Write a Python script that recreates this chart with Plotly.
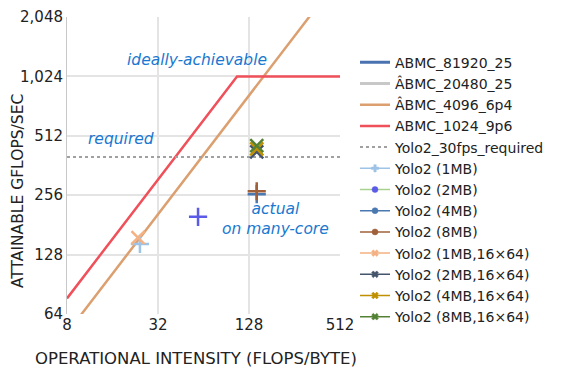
import plotly.graph_objects as go

# Roofline series (operational intensity, GFLOPS)
abmc_81920_x = [128, 3276.8, 8192]
abmc_81920_y = [3200, 81920, 81920]
abmc_20480_x = [128, 819.2, 8192]
abmc_20480_y = [3200, 20480, 20480]
abmc_4096_x = [8, 640, 2048]
abmc_4096_y = [51.2, 4096, 4096]
abmc_1024_x = [8, 106.67, 512]
abmc_1024_y = [76.8, 1024, 1024]
req_x = [8, 512]
req_y = [400, 400]

# Yolo2 measured points
yolo_names = ["Yolo2 (1MB)", "Yolo2 (2MB)", "Yolo2 (4MB)", "Yolo2 (8MB)",
              "Yolo2 (1MB,16×64)", "Yolo2 (2MB,16×64)", "Yolo2 (4MB,16×64)", "Yolo2 (8MB,16×64)"]
yolo_x = [24.3, 58.9, 144, 144, 23.6, 144, 144, 144]
yolo_y = [145, 199, 259, 268, 156, 425, 440, 456]

yolo_marker_colors = ["#9dc3e6", "#5b5be8", "#4a78b0", "#a0603a",
                      "#f4b183", "#44546a", "#bf9000", "#548235"]
yolo_line_colors = ["#9dc3e6", "#a9d18e", "#4a78b0", "#a0603a",
                    "#f4b183", "#44546a", "#bf9000", "#548235"]
yolo_symbols = ["cross-thin", "cross-thin", "cross-thin", "cross-thin",
                "x-thin", "x-thin", "x-thin", "x-thin"]
legend_symbols = ["cross", "circle", "circle", "circle", "x", "x", "x", "x"]

x_ticks = [8, 32, 128, 512]
y_ticks = [64, 128, 256, 512, 1024, 2048]
y_ticktext = ["64", "128", "256", "512", "1,024", "2,048"]

FONT = "DejaVu Sans"
TXT = "#222222"

fig = go.Figure()
fig.add_trace(go.Scatter(x=abmc_81920_x, y=abmc_81920_y, mode="lines", name="ABMC_81920_25",
                         line=dict(color="#4a72b0", width=3)))
fig.add_trace(go.Scatter(x=abmc_20480_x, y=abmc_20480_y, mode="lines", name="ÂBMC_20480_25",
                         line=dict(color="#c8c8c8", width=3)))
fig.add_trace(go.Scatter(x=abmc_4096_x, y=abmc_4096_y, mode="lines", name="ÂBMC_4096_6p4",
                         line=dict(color="#dca070", width=2.5)))
fig.add_trace(go.Scatter(x=abmc_1024_x, y=abmc_1024_y, mode="lines", name="ABMC_1024_9p6",
                         line=dict(color="#f0505a", width=2.5)))
fig.add_trace(go.Scatter(x=req_x, y=req_y, mode="lines", name="Yolo2_30fps_required",
                         line=dict(color="#a0a0a0", width=2, dash="dot")))
for n, xv, yv, mc, lc, sy, ls in zip(yolo_names, yolo_x, yolo_y, yolo_marker_colors,
                                      yolo_line_colors, yolo_symbols, legend_symbols):
    # plotted point (large thin cross)
    fig.add_trace(go.Scatter(x=[xv], y=[yv], mode="markers", name=n, legendgroup=n,
                             showlegend=False,
                             marker=dict(symbol=sy, size=13,
                                         line=dict(color=mc, width=2.5))))
    # legend entry (line with small marker)
    fig.add_trace(go.Scatter(x=[None], y=[None], mode="lines+markers", name=n, legendgroup=n,
                             line=dict(color=lc, width=1.5),
                             marker=dict(symbol=ls, size=6, color=mc,
                                         line=dict(color=mc, width=0.5))))

ann_color = "#1a78d0"
fig.add_annotation(x=1.763, y=3.091, xref="x", yref="y", text="<i>ideally-achievable</i>",
                   showarrow=False, font=dict(size=15.5, color=ann_color, family=FONT))
fig.add_annotation(x=1.26, y=2.694, xref="x", yref="y", text="<i>required</i>",
                   showarrow=False, font=dict(size=15.5, color=ann_color, family=FONT))
fig.add_annotation(x=2.285, y=2.286, xref="x", yref="y", text="<i>actual<br>on many-core</i>",
                   showarrow=False, font=dict(size=15.5, color=ann_color, family=FONT),
                   align="center")

# axis titles (placed as in the reference, slightly off-centre)
fig.add_annotation(x=0.4725, y=-0.1515, xref="paper", yref="paper",
                   text="OPERATIONAL INTENSITY (FLOPS/BYTE)", showarrow=False,
                   xanchor="center", yanchor="middle",
                   font=dict(size=16.5, color=TXT, family=FONT))
fig.add_annotation(x=-0.1795, y=0.414, xref="paper", yref="paper",
                   text="ATTAINABLE GFLOPS/SEC", showarrow=False, textangle=-90,
                   xanchor="center", yanchor="middle",
                   font=dict(size=15.5, color=TXT, family=FONT))

fig.update_xaxes(type="log", range=[0.90309, 2.70927], tickvals=x_ticks,
                 ticktext=[str(v) for v in x_ticks], automargin=False,
                 showgrid=True, gridcolor="#e4e4e4", gridwidth=1.5, zeroline=False,
                 showline=False, ticks="",
                 tickfont=dict(size=15, color=TXT, family=FONT))
fig.update_yaxes(type="log", range=[1.80618, 3.31133], tickvals=y_ticks, ticktext=y_ticktext,
                 automargin=False,
                 showgrid=True, gridcolor="#e4e4e4", gridwidth=1.5, zeroline=False,
                 showline=True, linecolor="#c8c8c8", ticks="",
                 tickfont=dict(size=15, color=TXT, family=FONT))
fig.update_layout(
    width=556, height=364,
    margin=dict(l=59, r=224, t=9, b=58, autoexpand=False),
    plot_bgcolor="white", paper_bgcolor="white",
    font=dict(family=FONT, color=TXT),
    legend=dict(x=1.055, y=0.90, xanchor="left", yanchor="top",
                font=dict(size=14, color=TXT, family=FONT),
                tracegroupgap=0, itemwidth=30, bgcolor="rgba(0,0,0,0)"),
)
fig.write_html("out.html")
